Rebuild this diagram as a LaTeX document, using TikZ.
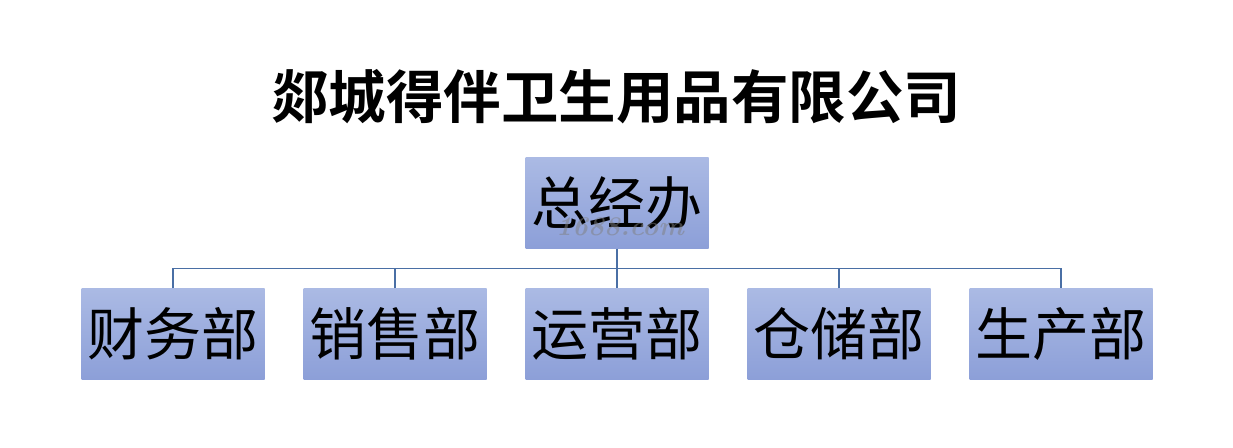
\documentclass[tikz,border=0pt]{standalone}
\usepackage{fontspec}
\newfontfamily\cjk{Noto Sans CJK SC}
\newfontfamily\cjkb{Noto Sans CJK SC Bold}
\usetikzlibrary{positioning}
\definecolor{boxtop}{HTML}{ABBAE4}
\definecolor{boxbot}{HTML}{8C9FD8}
\definecolor{linec}{HTML}{4A6FA5}
\tikzset{
  orgbox/.style={rectangle, minimum width=183pt, minimum height=91pt, inner sep=0pt,
    top color=boxtop, bottom color=boxbot, draw=none,
    font=\cjk\fontsize{57}{57}\selectfont},
  conn/.style={draw=linec, line width=1.9pt}
}
\begin{document}
\begin{tikzpicture}[x=1pt,y=-1pt]
\useasboundingbox[fill=white] (0,0) rectangle (1233,447);
\node[font=\cjkb\fontsize{57.5}{57.5}\selectfont] (title) at (616,97) {郯城得伴卫生用品有限公司};
\node[orgbox] (top) at (617,203) {总经办};
\node[font=\itshape\bfseries\fontsize{27}{27}\selectfont, text=gray, opacity=0.5] (wm) at (620,227) {1688.com};
\node[orgbox] (b1) at (173,334) {财务部};
\node[orgbox] (b2) at (395,334) {销售部};
\node[orgbox] (b3) at (617,334) {运营部};
\node[orgbox] (b4) at (839,334) {仓储部};
\node[orgbox] (b5) at (1061,334) {生产部};
\coordinate (bus) at (617,268.5);
\draw[conn] (top.south) -- (b3.north);
\draw[conn] (b1.north) |- (bus) -| (b5.north);
\draw[conn] (b2.north) -- (b2.north |- bus);
\draw[conn] (b4.north) -- (b4.north |- bus);
\end{tikzpicture}
\end{document}
